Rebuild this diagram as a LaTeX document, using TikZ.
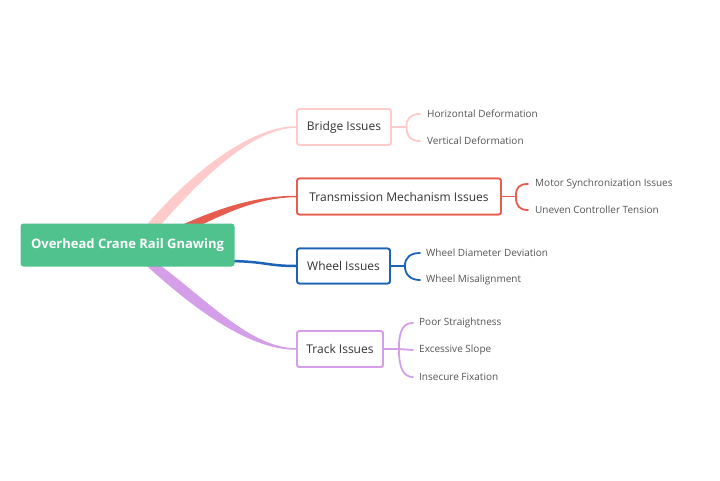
\documentclass[tikz,border=0pt]{standalone}
\usepackage{fontspec}
\setmainfont{Open Sans}
\begin{document}
\begin{tikzpicture}[x=1pt,y=-1pt,
  box/.style={draw,line width=1.8pt,rounded corners=2.5pt,fill=white,inner sep=0pt,text=textc,font=\fontsize{12}{14}\selectfont},
  leaf/.style={anchor=west,inner sep=0pt,text=leafc,font=\fontsize{10}{12}\selectfont},
  brk/.style={line width=1.8pt,line cap=round}]
\definecolor{rootc}{HTML}{4FC28E}
\definecolor{bridgec}{HTML}{FFCACA}
\definecolor{transc}{HTML}{E65C4F}
\definecolor{wheelc}{HTML}{1C62B5}
\definecolor{trackc}{HTML}{D49FE8}
\definecolor{textc}{HTML}{333333}
\definecolor{leafc}{HTML}{555555}
\useasboundingbox[fill=white] (0,0) rectangle (720,480);
% placeholder for root position
\node[minimum width=214pt,minimum height=43pt,inner sep=0pt] (root) at (127.5,245) {};
\node[box,draw=bridgec,minimum width=94pt,minimum height=36pt] (bridge) at (344,127) {Bridge Issues};
\node[box,draw=transc,minimum width=204pt,minimum height=36pt] (trans) at (399,196.5) {Transmission Mechanism Issues};
\node[box,draw=wheelc,minimum width=93pt,minimum height=35pt] (wheel) at (343.5,266) {Wheel Issues};
\node[box,draw=trackc,minimum width=86pt,minimum height=36pt] (track) at (340,349) {Track Issues};
% leaves
\node[leaf] (b1) at (427,114) {Horizontal Deformation};
\node[leaf] (b2) at (427,141) {Vertical Deformation};
\node[leaf] (t1) at (535,184) {Motor Synchronization Issues};
\node[leaf] (t2) at (535,210) {Uneven Controller Tension};
\node[leaf] (w1) at (426,253) {Wheel Diameter Deviation};
\node[leaf] (w2) at (426,280) {Wheel Misalignment};
\node[leaf] (k1) at (419,323) {Poor Straightness};
\node[leaf] (k2) at (419,350) {Excessive Slope};
\node[leaf] (k3) at (419,377) {Insecure Fixation};
% main connectors (tapered)
\fill[bridgec] ([shift={(18.5,2.5)}]root.north) .. controls +(42,-50) and +(-47,0) .. ([yshift=0.75pt]bridge.west)
  -- ([yshift=-0.75pt]bridge.west) .. controls +(-43,0.2) and +(42,-48) .. ([shift={(32.5,2.5)}]root.north) -- cycle;
\fill[transc] ([shift={(52.5,2.5)}]root.north) .. controls +(35,-16) and +(-42,0) .. ([yshift=0.75pt]trans.west)
  -- ([yshift=-0.75pt]trans.west) .. controls +(-39,0.2) and +(30,-14) .. ([shift={(67.5,4.5)}]root.north) -- cycle;
\draw[wheelc,line width=2.5pt] ([shift={(-10,16)}]root.east) .. controls +(40,0) and +(-30,0) .. (wheel.west);
\fill[trackc] ([shift={(32.5,-1.5)}]root.south) .. controls +(45,33) and +(-45,0) .. ([yshift=0.75pt]track.west)
  -- ([yshift=-0.75pt]track.west) .. controls +(-49,0.2) and +(44,40) .. ([shift={(18.5,-1.5)}]root.south) -- cycle;
% root on top
\node[fill=rootc,rounded corners=3pt,minimum width=214pt,minimum height=43pt,inner sep=0pt,text=white,font=\bfseries\fontsize{13}{16}\selectfont] (rootbox) at (root.center) {Overhead Crane Rail Gnawing};
% boxes on top of connectors
\node[box,draw=bridgec,minimum width=94pt,minimum height=36pt] at (bridge.center) {Bridge Issues};
\node[box,draw=transc,minimum width=204pt,minimum height=36pt] at (trans.center) {Transmission Mechanism Issues};
\node[box,draw=wheelc,minimum width=93pt,minimum height=35pt] at (wheel.center) {Wheel Issues};
\node[box,draw=trackc,minimum width=86pt,minimum height=36pt] at (track.center) {Track Issues};
% brackets
\draw[brk,bridgec] (bridge.east) -- ++(14.5,0) coordinate (bj);
\draw[brk,bridgec] (bj) .. controls +(0,-9) and +(-9,0) .. ([xshift=-7pt]b1.west);
\draw[brk,bridgec] (bj) .. controls +(0,9) and +(-9,0) .. ([xshift=-7pt]b2.west);
\draw[brk,transc] (trans.east) -- ++(14,0) coordinate (tj);
\draw[brk,transc] (tj) .. controls +(0,-9) and +(-9,0) .. ([xshift=-7pt]t1.west);
\draw[brk,transc] (tj) .. controls +(0,9) and +(-9,0) .. ([xshift=-7pt]t2.west);
\draw[brk,wheelc] (wheel.east) -- ++(14,0) coordinate (wj);
\draw[brk,wheelc] (wj) .. controls +(0,-9) and +(-9,0) .. ([xshift=-6pt]w1.west);
\draw[brk,wheelc] (wj) .. controls +(0,9) and +(-9,0) .. ([xshift=-6pt]w2.west);
\draw[brk,trackc] (track.east) -- ++(15,0) coordinate (kj);
\draw[brk,trackc] (kj) .. controls +(0,-20) and +(-9,0) .. ([xshift=-6pt]k1.west);
\draw[brk,trackc] (kj) -- ([xshift=-6pt]k2.west);
\draw[brk,trackc] (kj) .. controls +(0,20) and +(-9,0) .. ([xshift=-6pt]k3.west);
\end{tikzpicture}
\end{document}
